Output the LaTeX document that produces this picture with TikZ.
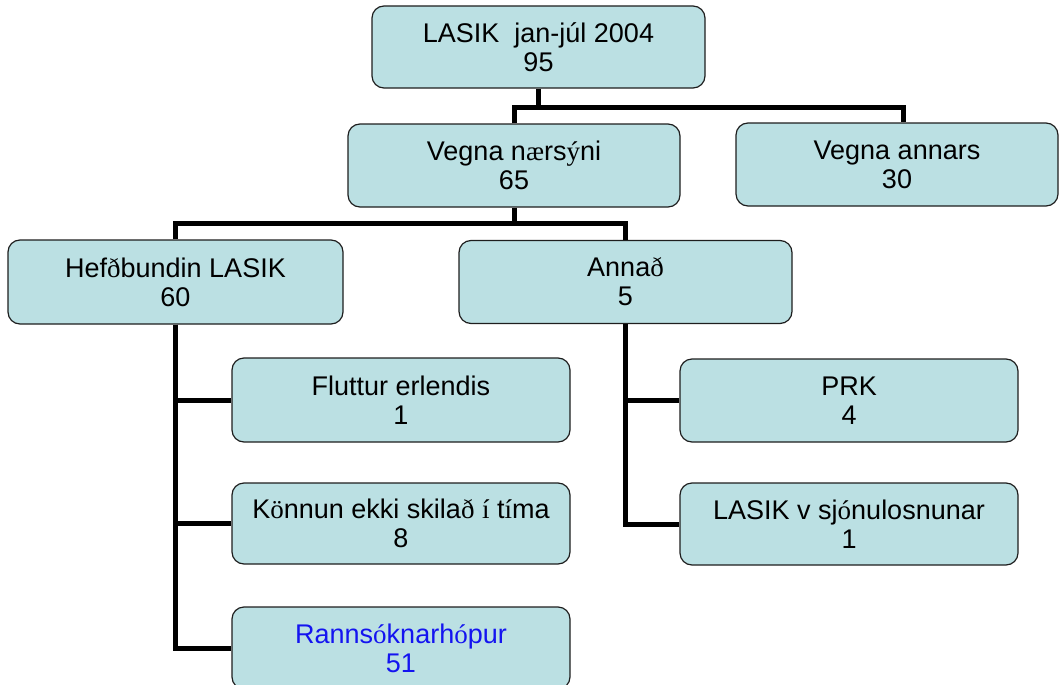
\documentclass[tikz,border=0pt]{standalone}
\usepackage{fontspec}
\setmainfont{Liberation Sans}
\newfontfamily\serfont{Liberation Serif}
\usepackage{xcolor}
\usetikzlibrary{positioning}
\definecolor{boxfill}{RGB}{187,224,227}
\definecolor{boxline}{RGB}{30,30,30}
\definecolor{textblue}{RGB}{20,20,240}
\newcommand{\fb}[1]{{\serfont #1}}
\tikzset{
  box/.style={draw=boxline,line width=1.2pt,fill=boxfill,rounded corners=12pt,
    minimum width=338pt,minimum height=83pt,align=center,inner sep=0pt,
    font=\fontsize{27}{29}\selectfont,
    execute at begin node={\rule{0pt}{30pt}}},
  conn/.style={line width=5pt}
}

\begin{document}
\begin{tikzpicture}[x=1pt,y=-1pt]
        \clip (0,0) rectangle (1060,685);
        \useasboundingbox (0,0) rectangle (1060,685);
        \node[box,minimum width=333pt,minimum height=82pt] (top) at (538.5,47) {LASIK\ \ jan-júl 2004\\95};
        \node[box,minimum width=332pt] (naer) at (514,165.5) {Vegna n\fb{æ}rs\fb{ý}ni\\65};
        \node[box,minimum width=322pt] (annars) at (897,164.5) {Vegna annars\\30};
        \node[box,minimum width=335pt,minimum height=84pt] (hef) at (175.5,282) {Hef\fb{ð}bundin LASIK\\60};
        \node[box,minimum width=333pt] (annad) at (625.5,282) {Anna\fb{ð}\\5};
        \node[box,minimum height=84pt] (flut) at (401,400) {Fluttur erlendis\\1};
        \node[box,minimum height=81pt] (konn) at (401,523.5) {K\fb{ö}nnun ekki skila\fb{ð} \fb{í} t\fb{í}ma\\8};
        \node[box,minimum height=82pt,text=textblue] (rann) at (401,648) {Ranns\fb{ó}knarh\fb{ó}pur\\51};
        \node[box] (prk) at (849,400.5) {PRK\\4};
        \node[box,minimum height=82pt] (lasikv) at (849,524) {LASIK v sj\fb{ó}nulosnunar\\1};

        \coordinate (b1) at (538.5,107);
        \coordinate (b2) at (514,223);

        \draw[conn] (top.south) -- (b1);
        \draw[conn] (naer.north) |- (b1) -| ([xshift=6pt]annars.north);
        \draw[conn] (naer.south) -- (b2);
        \draw[conn] (hef.north) |- (b2) -| (annad.north);
        \draw[conn] (hef.south) |- (flut.west);
        \draw[conn] (hef.south) |- (konn.west);
        \draw[conn] (hef.south) |- (rann.west);
        \draw[conn] (annad.south) |- (prk.west);
        \draw[conn] (annad.south) |- (lasikv.west);
    \end{tikzpicture}
\end{document}
